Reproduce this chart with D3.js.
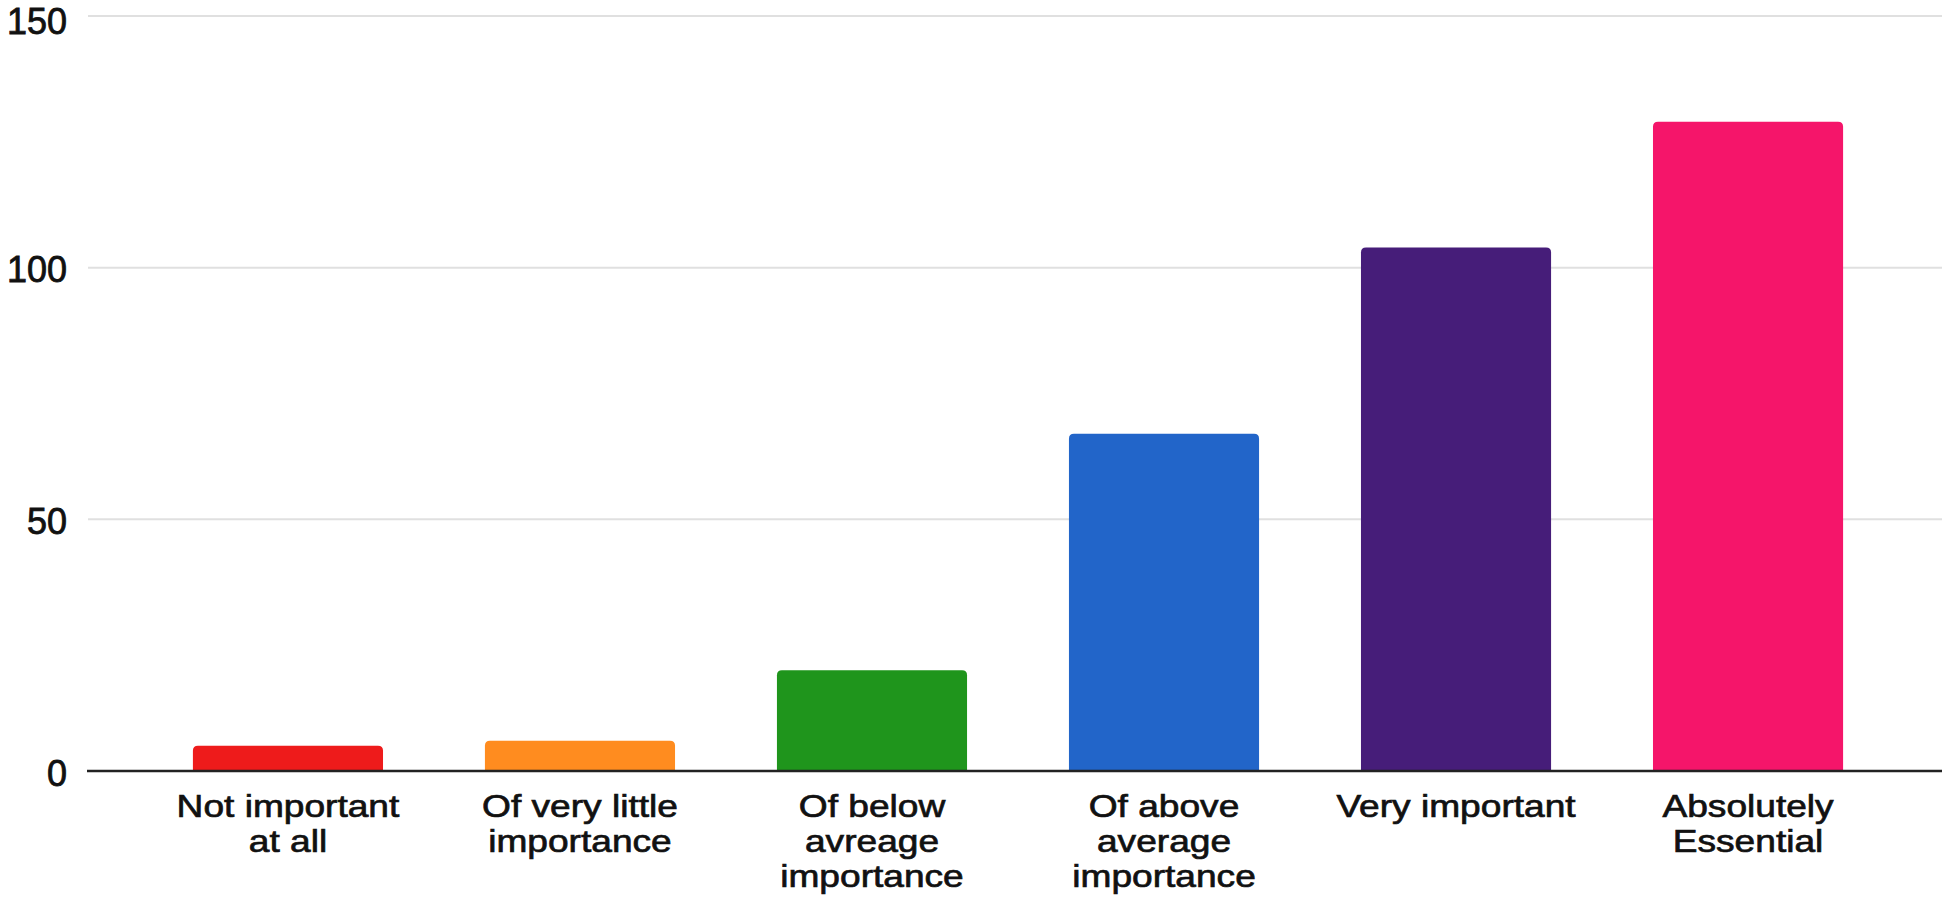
<!DOCTYPE html>
<html>
<head>
<meta charset="utf-8">
<script src="https://cdn.jsdelivr.net/npm/d3@7"></script>
<style>
  html, body { margin: 0; padding: 0; background: #fff; }
  svg { display: block; }
</style>
</head>
<body>
<svg id="chart" width="1942" height="900"></svg>
<script>
// ---- data ----
const categories = [
  "Not important at all",
  "Of very little importance",
  "Of below avreage importance",
  "Of above average importance",
  "Very important",
  "Absolutely Essential"
];
const labelLines = [
  ["Not important", "at all"],
  ["Of very little", "importance"],
  ["Of below", "avreage", "importance"],
  ["Of above", "average", "importance"],
  ["Very important"],
  ["Absolutely", "Essential"]
];
const values = [5, 6, 20, 67, 104, 129];
const colors = ["#ee1b1b", "#ff8c1f", "#1f951c", "#2265c9", "#461d79", "#f5156a"];
const yTicks = [0, 50, 100, 150];

// ---- layout ----
const W = 1942, H = 900;
const svg = d3.select("#chart");
const font = "'Liberation Sans', Arial, Helvetica, sans-serif";

const x = d3.scaleBand()
  .domain(categories)
  .range([91, 1945])
  .paddingInner(0.349)
  .paddingOuter(0.349);

const y = d3.scaleLinear()
  .domain([0, 150])
  .range([771, 16]);

// gridlines
svg.append("g")
  .selectAll("line")
  .data(yTicks.filter(d => d > 0))
  .join("line")
  .attr("x1", 88)
  .attr("x2", W)
  .attr("y1", d => y(d))
  .attr("y2", d => y(d))
  .attr("stroke", "#e0e0e0")
  .attr("stroke-width", 2);

// y tick labels (kept inside the top edge)
const tickSize = 36;
svg.append("g")
  .selectAll("text")
  .data(yTicks)
  .join("text")
  .attr("x", 67)
  .attr("y", d => Math.max(y(d) + tickSize * 0.35 + 2, 34))
  .attr("text-anchor", "end")
  .attr("font-family", font)
  .attr("font-size", tickSize)
  .attr("fill", "#111")
  .attr("stroke", "#111")
  .attr("stroke-width", 0.8)
  .text(d => d);

// bars with rounded top corners
const r = 5;
function barPath(d, i) {
  const x0 = x(categories[i]);
  const w = x.bandwidth();
  const y0 = y(0);
  const y1 = y(d);
  const rr = Math.min(r, (y0 - y1) / 2);
  return `M${x0},${y0} V${y1 + rr} Q${x0},${y1} ${x0 + rr},${y1} H${x0 + w - rr} Q${x0 + w},${y1} ${x0 + w},${y1 + rr} V${y0} Z`;
}
svg.append("g")
  .selectAll("path")
  .data(values)
  .join("path")
  .attr("d", (d, i) => barPath(d, i))
  .attr("fill", (d, i) => colors[i]);

// baseline
svg.append("line")
  .attr("x1", 87)
  .attr("x2", W)
  .attr("y1", y(0))
  .attr("y2", y(0))
  .attr("stroke", "#222")
  .attr("stroke-width", 2.5);

// x labels (slightly widened text, as in the reference)
const labelG = svg.append("g");
categories.forEach((c, i) => {
  const cx = x(c) + x.bandwidth() / 2;
  const t = labelG.append("text")
    .attr("transform", `translate(${cx},817) scale(1.16,1)`)
    .attr("text-anchor", "middle")
    .attr("font-family", font)
    .attr("font-size", 32)
    .attr("fill", "#111")
    .attr("stroke", "#111")
    .attr("stroke-width", 0.7);
  labelLines[i].forEach((line, k) => {
    t.append("tspan")
      .attr("x", 0)
      .attr("dy", k === 0 ? 0 : 35)
      .text(line);
  });
});
</script>
</body>
</html>
